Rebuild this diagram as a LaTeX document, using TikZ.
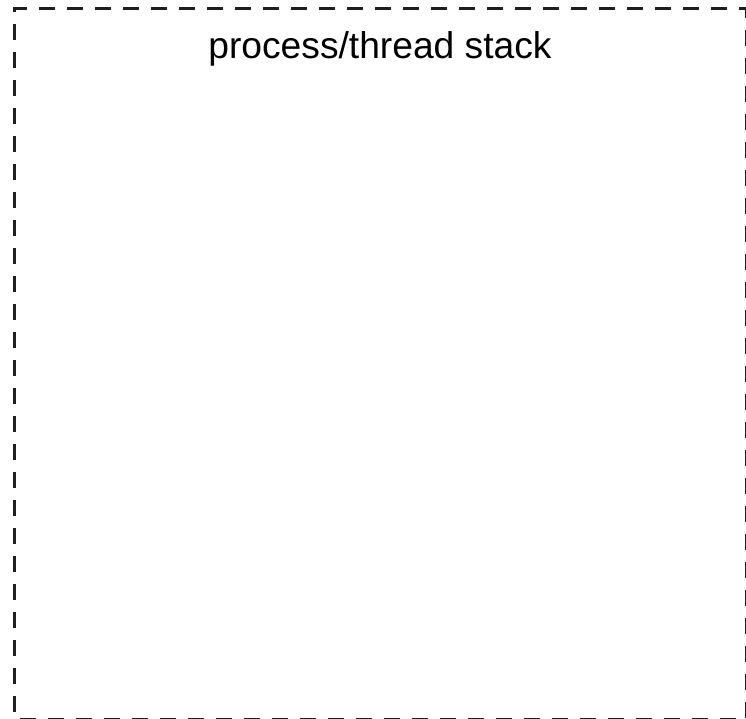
\documentclass[tikz,border=0pt]{standalone}
\usepackage{fontspec}
\setmainfont{Liberation Sans}
\usetikzlibrary{positioning}

\begin{document}
\begin{tikzpicture}[x=0.5pt, y=-0.5pt]
            \useasboundingbox (0,0) rectangle (746,719);
            % dashed frame of the stack
            \node[draw=black!88, line width=1.5pt, dash pattern=on 8pt off 6pt, dash phase=11.25pt, minimum width=366pt, minimum height=355.25pt, inner sep=0pt, anchor=north west] (stack) at (12.5,7) {};
            % title
            \node[anchor=base, inner sep=0pt, font=\fontsize{18.6}{22}\selectfont] (title) at (380,58) {process/thread stack};
        \end{tikzpicture}
\end{document}
